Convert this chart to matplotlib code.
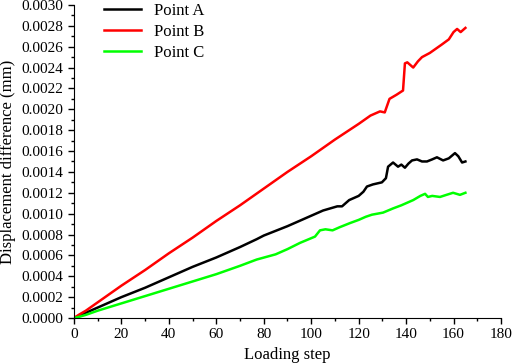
import matplotlib.pyplot as plt
from matplotlib.ticker import MultipleLocator, FormatStrFormatter

plt.rcParams['font.family'] = ['Liberation Serif', 'DejaVu Serif']

# values (loading step, displacement difference in mm)
step_a = [0, 2, 5, 10, 20, 30, 40, 50, 60, 70, 77, 80, 90, 95, 100, 105, 108,
          111, 113, 114, 116, 118, 120, 122, 123.5, 126, 129.8, 131.5, 132.4,
          134.5, 136.6, 138, 139.5, 141, 142.5, 144.6, 146.7, 148.8, 151, 153,
          155.6, 158, 160.6, 162, 163.6, 165]
disp_a = [0.0, 0.00002, 0.00005, 0.0001, 0.0002, 0.00029, 0.00039, 0.00049,
          0.00058, 0.00068, 0.000755, 0.00079, 0.00088, 0.00093, 0.00098,
          0.00103, 0.00105, 0.00107, 0.00107, 0.00109, 0.00113, 0.00115,
          0.00117, 0.00121, 0.00126, 0.00128, 0.0013, 0.00134, 0.00145,
          0.00149, 0.00145, 0.00147, 0.00144, 0.00148, 0.00151, 0.00152,
          0.0015, 0.0015, 0.00152, 0.00154, 0.00151, 0.00153, 0.00158,
          0.00155, 0.00149, 0.0015]

step_b = [0, 2, 5, 10, 20, 30, 40, 50, 60, 70, 80, 90, 100, 110, 120, 125,
          129, 131, 133, 136, 138.7, 139.5, 140.5, 142, 143, 145, 146.7, 150,
          155, 158, 160, 161.5, 163, 165]
disp_b = [0.0, 0.00003, 0.00007, 0.00015, 0.00031, 0.00046, 0.00062, 0.00077,
          0.00093, 0.00108, 0.00124, 0.0014, 0.00155, 0.00171, 0.00186,
          0.00194, 0.00198, 0.00197, 0.0021, 0.00214, 0.00218, 0.00244,
          0.00245, 0.00242, 0.0024, 0.00246, 0.0025, 0.00254, 0.00262,
          0.00267, 0.00274, 0.00277, 0.00274, 0.00278]

step_c = [0, 2, 5, 10, 20, 30, 40, 50, 60, 70, 77, 85, 90, 95.3, 101.6, 103.7,
          106, 109, 112, 116.4, 120, 123, 125.6, 128, 130.3, 134.5, 138, 143,
          146, 148, 149.2, 151, 154.3, 157, 159.8, 162.7, 165]
disp_c = [0.0, 0.00001, 0.00003, 0.00007, 0.00014, 0.00021, 0.00028, 0.00035,
          0.00042, 0.0005, 0.00056, 0.00061, 0.00066, 0.00072, 0.00078,
          0.00084, 0.00085, 0.00084, 0.00087, 0.00091, 0.00094, 0.00097,
          0.00099, 0.001, 0.00101, 0.00105, 0.00108, 0.00113, 0.00117,
          0.00119, 0.00116, 0.00117, 0.00116, 0.00118, 0.0012, 0.00118,
          0.0012]

fig = plt.figure(figsize=(5.12, 3.64), dpi=100)
ax = fig.add_axes([0.1445, 0.1264, 0.834, 0.86])

ax.plot(step_a, disp_a, '-', color='black', lw=1.8, label='Point A')
ax.plot(step_b, disp_b, '-', color='#ff0000', lw=1.8, label='Point B')
ax.plot(step_c, disp_c, '-', color='#00ff00', lw=1.8, label='Point C')

ax.set_xlim(0, 180)
ax.set_ylim(0, 0.003)
ax.xaxis.set_major_locator(MultipleLocator(20))
ax.xaxis.set_minor_locator(MultipleLocator(10))
ax.yaxis.set_major_locator(MultipleLocator(0.0002))
ax.yaxis.set_minor_locator(MultipleLocator(0.0001))
ax.yaxis.set_major_formatter(FormatStrFormatter('%.4f'))
ax.tick_params(which='both', direction='out', labelsize=11, width=1)
ax.tick_params(which='major', length=4)
ax.tick_params(which='minor', length=2.5)
for s in ['top', 'right']:
    ax.spines[s].set_visible(False)

ax.set_xlabel('Loading step', fontsize=12)
ax.set_ylabel('Displacement difference (mm)', fontsize=12)
ax.legend(loc='upper left', bbox_to_anchor=(0.035, 1.055), frameon=False,
          fontsize=12, handlelength=2.2, labelspacing=0.3)

plt.savefig('out.png', dpi=100)
